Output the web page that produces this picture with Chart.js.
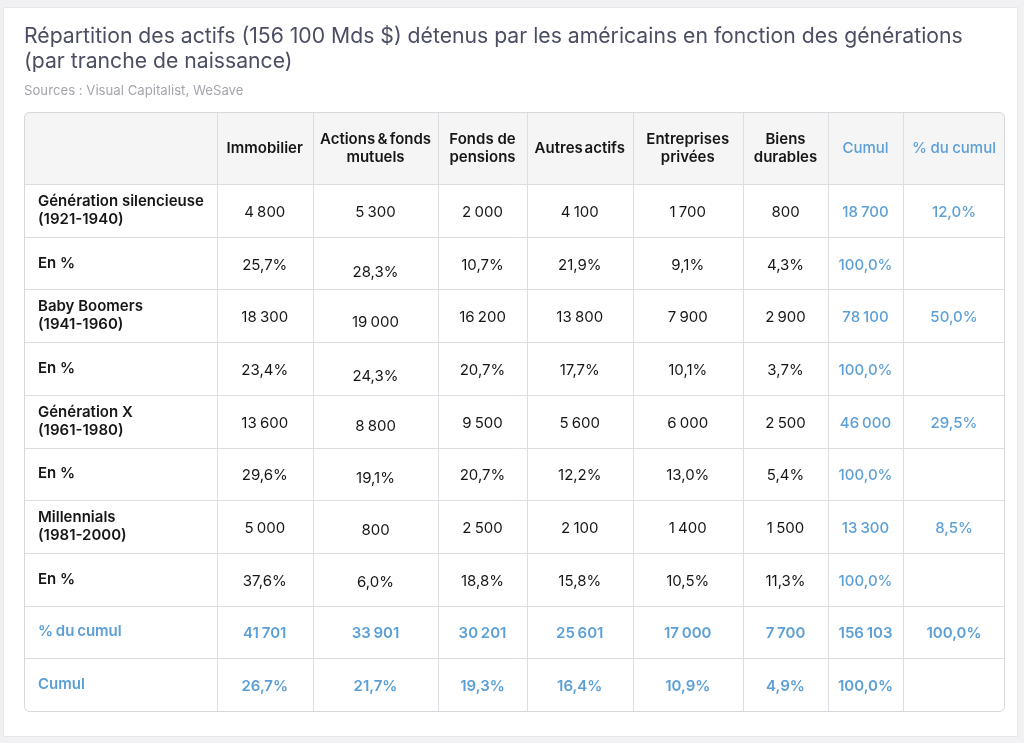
<!DOCTYPE html>
<html>
<head>
<meta charset="utf-8">
<script src="https://cdn.jsdelivr.net/npm/chart.js@4.4.0/dist/chart.umd.min.js"></script>
<style>
html,body{margin:0;padding:0;background:#f2f2f4;}
#wrap{position:relative;width:1024px;height:743px;}
</style>
</head>
<body>
<div id="wrap"><canvas id="c"></canvas></div>
<script>
// ---------- DATA ----------
const titleLines = ['Répartition des actifs (156 100 Mds $) détenus par les américains en fonction des générations', '(par tranche de naissance)'];
const sourceText = 'Sources : Visual Capitalist, WeSave';

const columnHeaders = [
  ['Immobilier'],
  ['Actions & fonds', 'mutuels'],
  ['Fonds de', 'pensions'],
  ['Autres actifs'],
  ['Entreprises', 'privées'],
  ['Biens', 'durables'],
  ['Cumul'],
  ['% du cumul']
];

const genLabels = [
  ['Génération silencieuse', '(1921-1940)'],
  ['Baby Boomers', '(1941-1960)'],
  ['Génération X', '(1961-1980)'],
  ['Millennials', '(1981-2000)']
];
const pctRowLabel = 'En %';

const silentValues      = [4800, 5300, 2000, 4100, 1700, 800];
const silentPct         = [25.7, 28.3, 10.7, 21.9, 9.1, 4.3];
const boomersValues     = [18300, 19000, 16200, 13800, 7900, 2900];
const boomersPct        = [23.4, 24.3, 20.7, 17.7, 10.1, 3.7];
const genXValues        = [13600, 8800, 9500, 5600, 6000, 2500];
const genXPct           = [29.6, 19.1, 20.7, 12.2, 13.0, 5.4];
const millennialsValues = [5000, 800, 2500, 2100, 1400, 1500];
const millennialsPct    = [37.6, 6.0, 18.8, 15.8, 10.5, 11.3];

const genTotals = [18700, 78100, 46000, 13300];
const genShares = [12.0, 50.0, 29.5, 8.5];
const rowPctTotal = 100.0;

const totalRowLabel = '% du cumul';
const columnTotals = [41701, 33901, 30201, 25601, 17000, 7700];
const grandTotal = 156103;
const grandShare = 100.0;

const shareRowLabel = 'Cumul';
const columnShares = [26.7, 21.7, 19.3, 16.4, 10.9, 4.9];

// ---------- LAYOUT (not data) ----------
const colWidths = [192.5, 96.5, 125, 89, 105.5, 110.5, 85, 75, 102];
const headerHeight = 73;
const bodyRowHeight = 52.7;
const actionsDrop = [0, 7, 5, 6, 3, 3, 2, 1, 0, 0];
const headerWordSpacing = ['0px', '-1.5px', '0px', '-2px', '0px', '0px', '0px', '-0.5px'];

const BLUE = '#5b9fd6';
const INK = '#161616';
const GRID = '#dddee3';
const FONT = 'Inter, "Noto Sans", "DejaVu Sans", sans-serif';
const FS = 15;

// ---------- helpers ----------
function fmtNum(v) {
  return String(Math.round(v)).replace(/\B(?=(\d{3})+(?!\d))/g, ' ');
}
function fmtPct(v) {
  return v.toFixed(1).replace('.', ',') + '%';
}

const genValues = [silentValues, boomersValues, genXValues, millennialsValues];
const genPcts = [silentPct, boomersPct, genXPct, millennialsPct];

const bodyRows = [];
genLabels.forEach((lab, g) => {
  bodyRows.push({label: lab, cells: genValues[g].map(fmtNum), cumul: fmtNum(genTotals[g]), share: fmtPct(genShares[g]), kind: 'gen'});
  bodyRows.push({label: [pctRowLabel], cells: genPcts[g].map(fmtPct), cumul: fmtPct(rowPctTotal), share: '', kind: 'pct'});
});
bodyRows.push({label: [totalRowLabel], cells: columnTotals.map(fmtNum), cumul: fmtNum(grandTotal), share: fmtPct(grandShare), kind: 'total'});
bodyRows.push({label: [shareRowLabel], cells: columnShares.map(fmtPct), cumul: fmtPct(rowPctTotal), share: '', kind: 'total'});

const colEdges = [0];
colWidths.forEach(w => colEdges.push(colEdges[colEdges.length - 1] + w));
const rowEdges = [0, headerHeight];
bodyRows.forEach(() => rowEdges.push(rowEdges[rowEdges.length - 1] + bodyRowHeight));

// cell-centre points as a dataset (invisible anchors)
const anchorPoints = [];
bodyRows.forEach((r, ri) => {
  for (let c = 0; c < colWidths.length; c++) {
    anchorPoints.push({x: (colEdges[c] + colEdges[c + 1]) / 2, y: (rowEdges[ri + 1] + rowEdges[ri + 2]) / 2});
  }
});

function roundRect(ctx, x, y, w, h, r) {
  ctx.beginPath();
  ctx.moveTo(x + r, y);
  ctx.lineTo(x + w - r, y);
  ctx.arcTo(x + w, y, x + w, y + r, r);
  ctx.lineTo(x + w, y + h - r);
  ctx.arcTo(x + w, y + h, x + w - r, y + h, r);
  ctx.lineTo(x + r, y + h);
  ctx.arcTo(x, y + h, x, y + h - r, r);
  ctx.lineTo(x, y + r);
  ctx.arcTo(x, y, x + r, y, r);
  ctx.closePath();
}

function setWordSpacing(ctx, v) {
  if ('wordSpacing' in ctx) ctx.wordSpacing = v;
}

const cardPlugin = {
  id: 'card',
  beforeDraw(chart) {
    const ctx = chart.ctx;
    ctx.save();
    ctx.fillStyle = '#f1f1f3';
    ctx.fillRect(0, 0, chart.width, chart.height);
    ctx.fillStyle = '#ffffff';
    ctx.fillRect(3, 7, 1015, 730);
    ctx.strokeStyle = '#e8e8ec';
    ctx.lineWidth = 1;
    ctx.strokeRect(3.5, 7.5, 1014, 729);
    ctx.restore();
  }
};

const tablePlugin = {
  id: 'table',
  afterDatasetsDraw(chart) {
    const ctx = chart.ctx;
    const xs = chart.scales.x, ys = chart.scales.y;
    const X = v => xs.getPixelForValue(v);
    const Y = v => ys.getPixelForValue(v);
    const left = X(colEdges[0]), right = X(colEdges[colEdges.length - 1]);
    const top = Y(rowEdges[0]), bottom = Y(rowEdges[rowEdges.length - 1]);
    ctx.save();
    // header background
    roundRect(ctx, left, top, right - left, bottom - top, 5);
    ctx.save();
    ctx.clip();
    ctx.fillStyle = '#f5f5f6';
    ctx.fillRect(left, top, right - left, Y(rowEdges[1]) - top);
    ctx.restore();
    // grid
    ctx.strokeStyle = GRID;
    ctx.lineWidth = 1;
    for (let i = 1; i < colEdges.length - 1; i++) {
      const x = Math.round(X(colEdges[i])) + 0.5;
      ctx.beginPath(); ctx.moveTo(x, top); ctx.lineTo(x, bottom); ctx.stroke();
    }
    for (let i = 1; i < rowEdges.length - 1; i++) {
      const y = Math.round(Y(rowEdges[i])) - 0.5;
      ctx.beginPath(); ctx.moveTo(left, y); ctx.lineTo(right, y); ctx.stroke();
    }
    roundRect(ctx, left + 0.5, top + 0.5, right - left - 1, bottom - top - 1, 5);
    ctx.strokeStyle = '#d6d7dd';
    ctx.stroke();

    ctx.textBaseline = 'middle';
    const lh = 18;
    // header texts
    columnHeaders.forEach((lines, i) => {
      const c = i + 1;
      const cx = X((colEdges[c] + colEdges[c + 1]) / 2);
      const cy = Y((rowEdges[0] + rowEdges[1]) / 2);
      const blue = c >= 7;
      setWordSpacing(ctx, headerWordSpacing[i]);
      ctx.fillStyle = blue ? BLUE : INK;
      ctx.font = (blue ? '500' : '600') + ' ' + FS + 'px ' + FONT;
      ctx.textAlign = 'center';
      lines.forEach((t, k) => {
        ctx.fillText(t, cx, cy + (k - (lines.length - 1) / 2) * lh);
      });
    });
    // body
    bodyRows.forEach((row, ri) => {
      const cy = Y((rowEdges[ri + 1] + rowEdges[ri + 2]) / 2);
      const isTotal = row.kind === 'total';
      // label
      setWordSpacing(ctx, isTotal ? '-1px' : '0px');
      ctx.textAlign = 'left';
      ctx.fillStyle = isTotal ? BLUE : INK;
      ctx.font = '600 ' + FS + 'px ' + FONT;
      row.label.forEach((t, k) => {
        ctx.fillText(t, X(colEdges[0]) + 14, cy - 1 + (k - (row.label.length - 1) / 2) * lh);
      });
      // values
      setWordSpacing(ctx, '-1px');
      ctx.textAlign = 'center';
      const all = row.cells.concat([row.cumul, row.share]);
      all.forEach((t, i) => {
        if (!t) return;
        const c = i + 1;
        const cx = X((colEdges[c] + colEdges[c + 1]) / 2);
        const blue = isTotal || c >= 7;
        ctx.fillStyle = blue ? BLUE : INK;
        ctx.font = (isTotal ? '600' : (blue ? '500' : '400')) + ' ' + FS + 'px ' + FONT;
        const dy = (c === 2 ? actionsDrop[ri] : 0) + 1;
        ctx.fillText(t, cx, cy + dy);
      });
    });
    setWordSpacing(ctx, '0px');
    ctx.restore();
  }
};

new Chart(document.getElementById('c'), {
  type: 'scatter',
  data: {
    datasets: [{
      label: 'cells',
      data: anchorPoints,
      pointRadius: 0,
      pointHoverRadius: 0
    }]
  },
  options: {
    responsive: true,
    maintainAspectRatio: false,
    animation: false,
    events: [],
    layout: {padding: {top: 10, left: 24, right: 19, bottom: 31}},
    scales: {
      x: {type: 'linear', display: false, min: colEdges[0], max: colEdges[colEdges.length - 1]},
      y: {type: 'linear', display: false, reverse: true, min: rowEdges[0], max: rowEdges[rowEdges.length - 1]}
    },
    plugins: {
      legend: {display: false},
      tooltip: {enabled: false},
      title: {
        display: true,
        text: titleLines,
        align: 'start',
        color: '#4b4e63',
        font: {family: FONT, size: 21.2, weight: '400', lineHeight: 1.18},
        padding: {top: 14, bottom: 4}
      },
      subtitle: {
        display: true,
        text: sourceText,
        align: 'start',
        color: '#a4a5ad',
        font: {family: FONT, size: 13.2, weight: '400', lineHeight: 1.2},
        padding: {top: 4.6, bottom: 13.6}
      }
    }
  },
  plugins: [cardPlugin, tablePlugin]
});
</script>
</body>
</html>
